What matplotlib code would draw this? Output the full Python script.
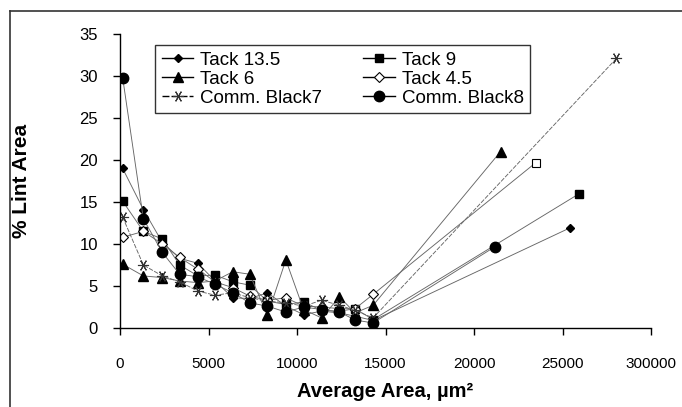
import numpy as np
import matplotlib
matplotlib.use('Agg')
import matplotlib.pyplot as plt
from matplotlib.lines import Line2D

plt.rcParams['font.family'] = ['Liberation Sans', 'DejaVu Sans']

# average area bins (um^2), shared by the first 15 points of every series
area = [150, 1320, 2390, 3370, 4400, 5370, 6370, 7330, 8330, 9370,
        10370, 11390, 12400, 13280, 14300]

tack_13_5 = [19.0, 14.1, 10.2, 8.3, 7.7, 5.6, 3.6, 3.5, 4.2, 2.6, 1.6, 2.0, 1.8, 1.4, 0.9]
tack_9 = [15.1, 11.5, 10.6, 7.5, 6.2, 6.3, 5.5, 5.1, 3.2, 2.8, 3.1, 2.1, 2.0, 2.3, 1.0]
tack_6 = [7.6, 6.2, 6.0, 5.6, 5.4, 5.6, 6.7, 6.4, 1.5, 8.1, 2.2, 1.2, 3.7, 1.8, 2.7]
tack_4_5 = [10.8, 11.5, 10.0, 8.4, 7.0, 5.5, 4.8, 3.8, 3.3, 3.6, 2.6, 2.5, 2.3, 2.3, 4.0]
black7 = [13.2, 7.5, 6.2, 5.5, 4.4, 3.9, 4.2, 3.6, 3.2, 3.0, 2.6, 3.3, 2.7, 2.1, 1.2]
black8 = [29.8, 13.0, 9.0, 6.4, 6.1, 5.2, 4.2, 3.0, 2.6, 1.9, 2.5, 2.2, 1.9, 0.95, 0.6]

# the last (largest) bin of each series
last_x = {'Tack 13.5': 25400, 'Tack 9': 25950, 'Tack 6': 21500,
          'Tack 4.5': 23500, 'Comm. Black7': 28050, 'Comm. Black8': 21200}
last_y = {'Tack 13.5': 11.9, 'Tack 9': 16.0, 'Tack 6': 21.0,
          'Tack 4.5': 19.7, 'Comm. Black7': 32.1, 'Comm. Black8': 9.7}

xticks = [0, 5000, 10000, 15000, 20000, 25000, 30000]
xticklabels = ['0', '5000', '10000', '15000', '20000', '25000', '300000']
yticks = [0, 5, 10, 15, 20, 25, 30, 35]


def series(name, vals):
    return area + [last_x[name]], vals + [last_y[name]]


fig = plt.figure(figsize=(6.82, 4.07), dpi=100)
ax = fig.add_axes([120 / 682, 1 - 328 / 407, 531 / 682, 294 / 407])

lc = '#666666'
lw = 0.65
styles = {
    'Tack 13.5': dict(marker='D', ms=4.5, mfc='k', mec='k', ls='-'),
    'Tack 9': dict(marker='s', ms=6, mfc='k', mec='k', ls='-'),
    'Tack 6': dict(marker='^', ms=7, mfc='k', mec='k', ls='-'),
    'Tack 4.5': dict(marker='D', ms=5, mfc='white', mec='k', mew=0.8, ls='-'),
    'Comm. Black7': dict(marker=(6, 2, 90), ms=8, mfc='k', mec='#333333', mew=0.8, ls=(0, (5, 1.5))),
    'Comm. Black8': dict(marker='o', ms=7.5, mfc='k', mec='k', ls='-'),
}
data = {'Tack 13.5': tack_13_5, 'Tack 9': tack_9, 'Tack 6': tack_6,
        'Tack 4.5': tack_4_5, 'Comm. Black7': black7, 'Comm. Black8': black8}

handles = {}
for name, vals in data.items():
    x, y = series(name, vals)
    st = styles[name]
    if name == 'Tack 4.5':
        # last point of this series is drawn as an open square
        h, = ax.plot(x, y, color=lc, lw=lw, markevery=list(range(len(x) - 1)), label=name, **st)
        ax.plot(x[-1:], y[-1:], ls='none', marker='s', ms=6, mfc='white', mec='k', mew=0.8)
    else:
        h, = ax.plot(x, y, color=lc, lw=lw, label=name, **st)
    handles[name] = h

ax.set_xlim(0, 30000)
ax.set_ylim(0, 35)
ax.set_xticks(xticks)
ax.set_xticklabels(xticklabels)
ax.set_yticks(yticks)
for s in ['top', 'right']:
    ax.spines[s].set_visible(False)
for s in ['left', 'bottom']:
    ax.spines[s].set_linewidth(1.0)
ax.tick_params(axis='x', direction='out', length=5, width=1, labelsize=11, pad=16)
ax.tick_params(axis='y', direction='out', length=5, width=1, labelsize=12, pad=11)

ax.set_xlabel('Average Area, µm²', fontsize=14.5, fontweight='bold')
ax.set_ylabel('% Lint Area', fontsize=15, fontweight='bold')
ax.xaxis.set_label_coords(0.5, -0.185)
ax.yaxis.set_label_coords(-0.168, 0.5)

order = ['Tack 13.5', 'Tack 6', 'Comm. Black7', 'Tack 9', 'Tack 4.5', 'Comm. Black8']
leg = ax.legend([handles[k] for k in order], order, ncol=2, loc='upper left',
                bbox_to_anchor=(0.066, 0.963), fontsize=13.5, frameon=True,
                fancybox=False, edgecolor='k', handlelength=1.7, handletextpad=0.35,
                labelspacing=0.1, columnspacing=2.2, borderpad=0.35, borderaxespad=0)
leg.get_frame().set_linewidth(1.0)
for ln in leg.get_lines():
    ln.set_color('k')
    ln.set_linewidth(1.0)

# outer frame
fig.add_artist(Line2D([10 / 682, 1], [1 - 11 / 407] * 2, color='#333333', lw=1.2))
fig.add_artist(Line2D([10 / 682] * 2, [0, 1 - 11 / 407], color='#333333', lw=1.2))

fig.savefig('out.png', dpi=100)
